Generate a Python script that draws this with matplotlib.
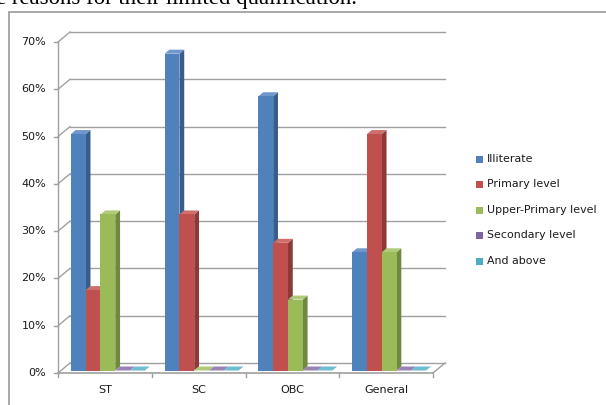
import numpy as np
import matplotlib.pyplot as plt
from matplotlib.patches import Polygon, Rectangle

# categories and series (share of each group by education level, %)
categories = ['ST', 'SC', 'OBC', 'General']
series = ['Illiterate', 'Primary level', 'Upper-Primary level',
          'Secondary level', 'And above']
illiterate = [50, 67, 58, 25]
primary = [17, 33, 27, 50]
upper_primary = [33, 0, 15, 25]
secondary = [0, 0, 0, 0]
and_above = [0, 0, 0, 0]
y_ticks = [0, 10, 20, 30, 40, 50, 60, 70]

values = [illiterate, primary, upper_primary, secondary, and_above]

# front / side / top face colours for each series
front = ['#4f81bd', '#c0504d', '#9bbb59', '#8064a2', '#4bacc6']
side = ['#385d8a', '#8c3a38', '#71893f', '#5c4776', '#357d91']
top = ['#6f97cb', '#cd6f6c', '#afca7a', '#9983b6', '#6dbdd2']

W, H = 606, 405
fig = plt.figure(figsize=(W / 100, H / 100), dpi=100)
ax = fig.add_axes([0, 0, 1, 1])

# pixel layout of the plot: front axis origin and scale
x0_px, y0_px = 58, 373
cat_px = 93.75
pct_px = (373 - 42) / 70.0
ax.set_xlim(-x0_px / cat_px, (W - x0_px) / cat_px)
ax.set_ylim((y0_px - H) / pct_px, y0_px / pct_px)
ax.axis('off')

# oblique depth offset of the whole box (in data units)
DX = 12 / cat_px
DY = 10 / pct_px
grid_c = '#a0a0a0'
n_cat = len(categories)

# chart frame
fig.patches.append(Rectangle((9, -5), W, H - 12 + 5, transform=None,
                             fill=False, ec='#9a9a9a', lw=1.2))

# back wall gridlines and left wall diagonals
for t in y_ticks:
    ax.plot([DX, n_cat + DX], [t + DY, t + DY], color=grid_c, lw=1, zorder=1)
    ax.plot([0, DX], [t, t + DY], color=grid_c, lw=1, zorder=1)
    ax.plot([-4 / cat_px, 0], [t, t], color=grid_c, lw=1, zorder=1)
    ax.text(-12 / cat_px, t, '{}%'.format(t), ha='right', va='center',
            fontsize=8, color='#1a1a1a')

# floor and axes
ax.plot([0, 0], [0, y_ticks[-1]], color=grid_c, lw=1, zorder=1)
ax.plot([0, n_cat], [0, 0], color=grid_c, lw=1.2, zorder=1)
ax.plot([n_cat, n_cat + DX], [0, DY], color=grid_c, lw=1, zorder=1)
for i in range(n_cat + 1):
    ax.plot([i, i], [0, -4 / pct_px], color=grid_c, lw=1, zorder=1)
for i, c in enumerate(categories):
    ax.text(i + 0.5, -17 / pct_px, c, ha='center', va='center',
            fontsize=8, color='#1a1a1a')

# bars: front face through ax.bar, side and top faces as polygons
bw = 14.8 / cat_px
f0, f1 = 0.25, 0.65
ox, oy = DX * f0, DY * f0
ddx, ddy = DX * (f1 - f0), DY * (f1 - f0)
n_ser = len(series)
start = 0.5 - bw * n_ser / 2
z = 2
for i in range(n_cat):
    for s in range(n_ser):
        v = values[s][i]
        xl = i + start + s * bw + ox
        xr = xl + bw
        b = oy
        ax.add_patch(Polygon([(xr, b), (xr + ddx, b + ddy),
                              (xr + ddx, b + v + ddy), (xr, b + v)],
                             closed=True, fc=side[s], ec='none', zorder=z))
        ax.add_patch(Polygon([(xl, b + v), (xr, b + v),
                              (xr + ddx, b + v + ddy), (xl + ddx, b + v + ddy)],
                             closed=True, fc=top[s], ec='none', zorder=z))
        ax.bar(xl, v, width=bw, bottom=b, align='edge', color=front[s],
               edgecolor='none', zorder=z + 0.5)
        z += 1

# legend
for s, name in enumerate(series):
    yp = 159 + s * 25.5
    fig.patches.append(Rectangle((476, H - yp - 3.5), 7, 7, transform=None,
                                 fc=front[s], ec='none'))
    fig.text(487 / W, 1 - yp / H, name, ha='left', va='center',
             fontsize=7.9, color='#1a1a1a')

# tail of the page text above the chart
fig.text(-4 / W, 1 - 4 / H, 'e reasons for their limited qualification.',
         ha='left', va='baseline', fontsize=16.4,
         family='Liberation Serif', color='black')

fig.savefig('out.png', dpi=100)
